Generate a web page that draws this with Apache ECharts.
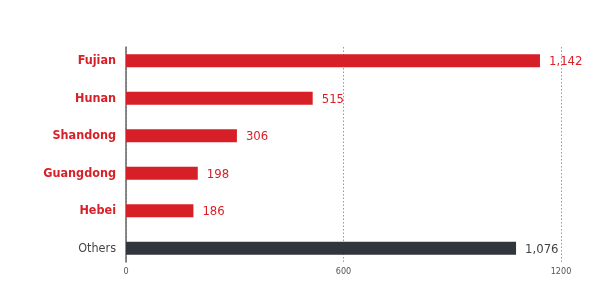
<!DOCTYPE html>
<html>
<head>
<meta charset="utf-8">
<script src="https://cdn.jsdelivr.net/npm/echarts@6/dist/echarts.min.js"></script>
<style>html,body{margin:0;padding:0;background:#fff;}#c{width:612px;height:297px;}</style>
</head>
<body>
<div id="c"></div>
<script>
var categories = ['Fujian', 'Hunan', 'Shandong', 'Guangdong', 'Hebei', 'Others'];
var values = [1142, 515, 306, 198, 186, 1076];
var tickValues = [0, 600, 1200];

var RED = '#d71f27';
var DARK = '#30363c';
var FONT = '"DejaVu Sans Condensed", "Liberation Sans Narrow", "Liberation Sans", Arial, sans-serif';

var chart = echarts.init(document.getElementById('c'));
chart.setOption({
  animation: false,
  backgroundColor: '#fff',
  grid: [
    {left: 126, right: 51, top: 42, bottom: 30},
    {left: 126, right: 51, top: 47, bottom: 35}
  ],
  xAxis: [
    {gridIndex: 0, type: 'value', min: tickValues[0], max: tickValues[tickValues.length-1], show: false},
    {gridIndex: 1, type: 'value', min: tickValues[0], max: tickValues[tickValues.length-1], interval: 600,
     axisLine: {show: false}, axisTick: {show: false},
     axisLabel: {margin: 5, fontSize: 9, color: '#555', fontFamily: FONT,
       formatter: function (v) { return String(v); }},
     splitLine: {show: true, lineStyle: {color: '#999', type: [1.5, 2], width: 1}}}
  ],
  yAxis: [
    {gridIndex: 0, type: 'category', data: categories, inverse: true,
     axisLine: {show: false}, axisTick: {show: false},
     axisLabel: {margin: 10, fontSize: 12.5, fontFamily: FONT,
       formatter: function (v) { return v === 'Others' ? '{o|' + v + '}' : '{r|' + v + '}'; },
       rich: {
         r: {color: RED, fontWeight: 'bold', fontSize: 12.5, fontFamily: FONT},
         o: {color: '#444', fontWeight: 'normal', fontSize: 12.5, fontFamily: FONT}
       }}},
    {gridIndex: 1, type: 'value', min: 0, max: 1,
     axisLine: {show: true, onZero: false, lineStyle: {color: '#666', width: 1.5}},
     axisTick: {show: false}, axisLabel: {show: false}, splitLine: {show: false}}
  ],
  series: [{
    type: 'bar',
    xAxisIndex: 0, yAxisIndex: 0,
    barWidth: 13,
    data: values.map(function (v, i) {
      var c = categories[i] === 'Others' ? DARK : RED;
      return {value: v, itemStyle: {color: c},
        label: {color: categories[i] === 'Others' ? '#444' : RED}};
    }),
    label: {show: true, position: 'right', distance: 9, fontSize: 13, fontFamily: FONT, offset: [0, 1],
      formatter: function (p) { return p.value.toLocaleString('en-US'); }}
  }]
});
</script>
</body>
</html>
